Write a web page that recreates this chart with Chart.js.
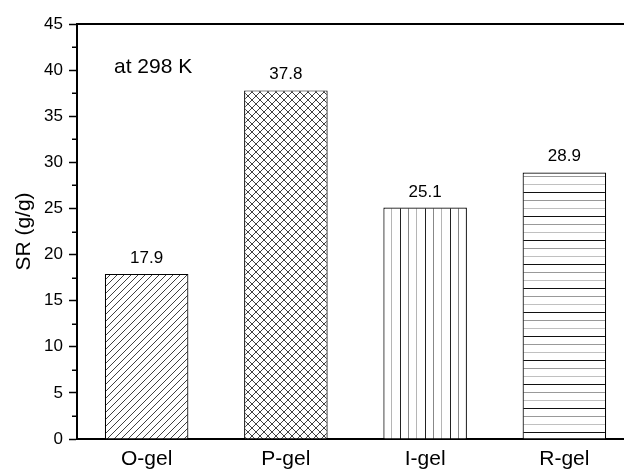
<!DOCTYPE html>
<html>
<head>
<meta charset="utf-8">
<script src="https://cdn.jsdelivr.net/npm/chart.js@4.4.1/dist/chart.umd.min.js"></script>
<style>
  html, body { margin: 0; padding: 0; background: #fff; overflow: hidden; width: 624px; height: 470px; }
  canvas { display: block; }
</style>
</head>
<body>
<canvas id="c" width="642" height="470"></canvas>
<script>
const categories = ['O-gel', 'P-gel', 'I-gel', 'R-gel'];
const srValues = [17.9, 37.8, 25.1, 28.9];
const valueLabels = ['17.9', '37.8', '25.1', '28.9'];
const yTicksMajor = [0, 5, 10, 15, 20, 25, 30, 35, 40, 45];
const yTicksMinor = [2.5, 7.5, 12.5, 17.5, 22.5, 27.5, 32.5, 37.5, 42.5];
const noteText = 'at 298 K';
const yTitle = 'SR (g/g)';

const FONT = '"Liberation Sans", Arial, sans-serif';

function makeTile(w, h, draw) {
  const c = document.createElement('canvas');
  c.width = w; c.height = h;
  const g = c.getContext('2d');
  g.fillStyle = '#fff';
  g.fillRect(0, 0, w, h);
  draw(g);
  return c;
}
const ctxMain = document.getElementById('c').getContext('2d');

const diagTile = makeTile(7, 7, g => {
  g.strokeStyle = '#404040'; g.lineWidth = 1;
  g.beginPath();
  g.moveTo(-1, 8); g.lineTo(8, -1);
  g.moveTo(-1, 1); g.lineTo(1, -1);
  g.moveTo(6, 8); g.lineTo(8, 6);
  g.stroke();
});
const crossTile = makeTile(8, 8, g => {
  g.strokeStyle = '#404040'; g.lineWidth = 1;
  g.beginPath();
  g.moveTo(-1, 9); g.lineTo(9, -1);
  g.moveTo(-1, -1); g.lineTo(9, 9);
  g.stroke();
});
const vertTile = makeTile(25, 4, g => {
  g.lineWidth = 1;
  [[0.5, '#222'], [8.5, '#888'], [16.5, '#b5b5b5']].forEach(([x, col]) => {
    g.strokeStyle = col; g.beginPath(); g.moveTo(x, 0); g.lineTo(x, 4); g.stroke();
  });
});
const horzTile = makeTile(4, 24, g => {
  g.lineWidth = 1;
  [[0.5, '#111'], [8.5, '#999'], [16.5, '#c0c0c0']].forEach(([y, col]) => {
    g.strokeStyle = col; g.beginPath(); g.moveTo(0, y); g.lineTo(4, y); g.stroke();
  });
});
const patterns = [
  ctxMain.createPattern(diagTile, 'repeat'),
  ctxMain.createPattern(crossTile, 'repeat'),
  ctxMain.createPattern(vertTile, 'repeat'),
  ctxMain.createPattern(horzTile, 'repeat')
];

const decorPlugin = {
  id: 'decor',
  afterDraw(chart) {
    const ctx = chart.ctx;
    const ca = chart.chartArea;
    const y = chart.scales.y;
    ctx.save();
    ctx.strokeStyle = '#000';
    ctx.lineWidth = 2;
    ctx.beginPath();
    ctx.moveTo(ca.left - 1, ca.top);
    ctx.lineTo(ca.right, ca.top);
    ctx.stroke();
    ctx.lineWidth = 1.5;
    yTicksMinor.forEach(v => {
      const py = Math.round(y.getPixelForValue(v)) + 0.25;
      ctx.beginPath();
      ctx.moveTo(ca.left - 5, py);
      ctx.lineTo(ca.left, py);
      ctx.stroke();
    });
    ctx.fillStyle = '#000';
    ctx.font = '17px ' + FONT;
    ctx.textAlign = 'center';
    ctx.textBaseline = 'alphabetic';
    chart.getDatasetMeta(0).data.forEach((bar, i) => {
      ctx.fillText(valueLabels[i], bar.x, bar.y - 11);
    });
    ctx.font = '21px ' + FONT;
    ctx.textAlign = 'left';
    ctx.fillText(noteText, ca.left + 37, ca.top + 49);
    ctx.restore();
  }
};

new Chart(document.getElementById('c'), {
  type: 'bar',
  data: {
    labels: categories,
    datasets: [{
      data: srValues,
      backgroundColor: patterns,
      borderColor: '#000',
      borderWidth: 1.2,
      barPercentage: 0.6,
      categoryPercentage: 1.0
    }]
  },
  options: {
    responsive: false,
    animation: false,
    events: [],
    layout: { padding: { top: 24, right: 8, left: 0, bottom: 0 } },
    plugins: { legend: { display: false }, tooltip: { enabled: false } },
    scales: {
      x: {
        grid: { display: false, drawTicks: false },
        border: { display: true, color: '#000', width: 2 },
        ticks: { color: '#000', font: { family: FONT, size: 21 }, padding: 8, maxRotation: 0 },
        afterFit(s) { s.height = 31; }
      },
      y: {
        min: 0, max: 45,
        afterBuildTicks(s) { s.ticks = yTicksMajor.map(v => ({ value: v })); },
        ticks: { color: '#000', font: { family: FONT, size: 17 }, padding: 6 },
        grid: { drawOnChartArea: false, drawTicks: true, tickLength: 8, tickColor: '#000', tickWidth: 1.5 },
        border: { display: true, color: '#000', width: 2 },
        title: { display: true, text: yTitle, color: '#000', font: { family: FONT, size: 21 }, padding: { top: 12, bottom: 0 } },
        afterFit(s) { s.width = 77; }
      }
    }
  },
  plugins: [decorPlugin]
});
</script>
</body>
</html>
